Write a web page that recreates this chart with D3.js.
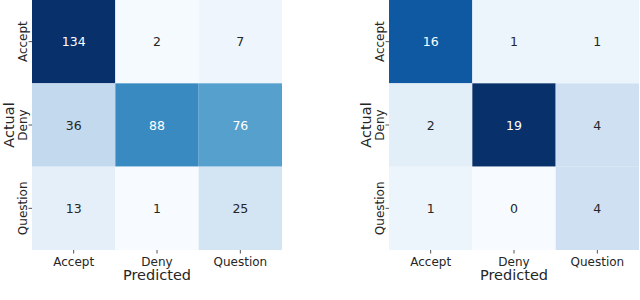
<!DOCTYPE html>
<html>
<head>
<meta charset="utf-8">
<script src="https://cdn.jsdelivr.net/npm/d3@7"></script>
<style>
  body { margin: 0; background: #fff; }
  svg { display: block; font-family: "DejaVu Sans", sans-serif; }
</style>
</head>
<body>
<svg id="chart" width="640" height="300"></svg>
<script>
const labels = ["Accept", "Deny", "Question"];

// rows = actual, columns = predicted
const leftMatrix = [
    [134, 2, 7],
    [36, 88, 76],
    [13, 1, 25]
];
const rightMatrix = [
    [16, 1, 1],
    [2, 19, 4],
    [1, 0, 4]
];

// matplotlib "Blues" (linear segments through the ColorBrewer stops)
const bluesStops = ["#f7fbff", "#deebf7", "#c6dbef", "#9ecae1", "#6baed6",
                    "#4292c6", "#2171b5", "#08519c", "#08306b"];

const svg = d3.select("#chart");

function luminance(c) {
    const rgb = d3.rgb(c);
    const ch = [rgb.r, rgb.g, rgb.b].map(v => {
        v = v / 255;
        return v <= 0.03928 ? v / 12.92 : Math.pow((v + 0.055) / 1.055, 2.4);
    });
    return 0.2126 * ch[0] + 0.7152 * ch[1] + 0.0722 * ch[2];
}

function drawMatrix(matrix, left) {
    const size = 250;
    const g = svg.append("g").attr("transform", `translate(${left},0)`);

    const x = d3.scaleBand().domain(labels).range([0, size]);
    const y = d3.scaleBand().domain(labels).range([0, size]);

    const flat = matrix.flat();
    const lo = d3.min(flat), hi = d3.max(flat);
    const t = d3.scaleLinear().domain([lo, hi]).range([0, 1]);
    const cmap = d3.scaleLinear()
        .domain(d3.range(bluesStops.length).map(i => i / (bluesStops.length - 1)))
        .range(bluesStops)
        .interpolate(d3.interpolateRgb);

    const cells = [];
    matrix.forEach((row, i) => row.forEach((v, j) => {
        cells.push({actual: labels[i], predicted: labels[j], value: v});
    }));

    g.selectAll("rect.cell")
        .data(cells)
        .join("rect")
        .attr("class", "cell")
        .attr("x", d => x(d.predicted))
        .attr("y", d => y(d.actual))
        .attr("width", x.bandwidth())
        .attr("height", y.bandwidth())
        .attr("fill", d => cmap(t(d.value)));

    g.selectAll("text.annot")
        .data(cells)
        .join("text")
        .attr("class", "annot")
        .attr("x", d => x(d.predicted) + x.bandwidth() / 2)
        .attr("y", d => y(d.actual) + y.bandwidth() / 2)
        .attr("text-anchor", "middle")
        .attr("dy", "0.36em")
        .attr("font-size", "12.5px")
        .attr("fill", d => luminance(cmap(t(d.value))) > 0.408 ? "#262626" : "#ffffff")
        .text(d => d.value);

    // bottom axis
    const xAxis = g.append("g")
        .attr("transform", `translate(0,${size})`)
        .call(d3.axisBottom(x).tickSize(3.5).tickPadding(3.5));
    xAxis.select(".domain").remove();
    xAxis.selectAll("line").attr("stroke", "#262626").attr("stroke-width", 0.8);
    xAxis.selectAll("text")
        .attr("font-size", "12px")
        .attr("font-family", "DejaVu Sans")
        .attr("fill", "#262626");

    // left axis, labels rotated
    const yAxis = g.append("g")
        .call(d3.axisLeft(y).tickSize(3.5).tickPadding(3.5));
    yAxis.select(".domain").remove();
    yAxis.selectAll("line").attr("stroke", "#262626").attr("stroke-width", 0.8);
    yAxis.selectAll("text")
        .attr("font-size", "12px")
        .attr("font-family", "DejaVu Sans")
        .attr("fill", "#262626")
        .attr("text-anchor", "middle")
        .attr("dy", null)
        .attr("x", null)
        .attr("transform", "translate(-5,0) rotate(-90)");

    g.append("text")
        .attr("x", size / 2)
        .attr("y", 280)
        .attr("text-anchor", "middle")
        .attr("font-size", "14.5px")
        .attr("fill", "#262626")
        .text("Predicted");

    g.append("text")
        .attr("transform", `translate(-18.5,${size / 2}) rotate(-90)`)
        .attr("text-anchor", "middle")
        .attr("font-size", "14.5px")
        .attr("fill", "#262626")
        .text("Actual");
}

drawMatrix(leftMatrix, 32);
drawMatrix(rightMatrix, 389);
</script>
</body>
</html>
